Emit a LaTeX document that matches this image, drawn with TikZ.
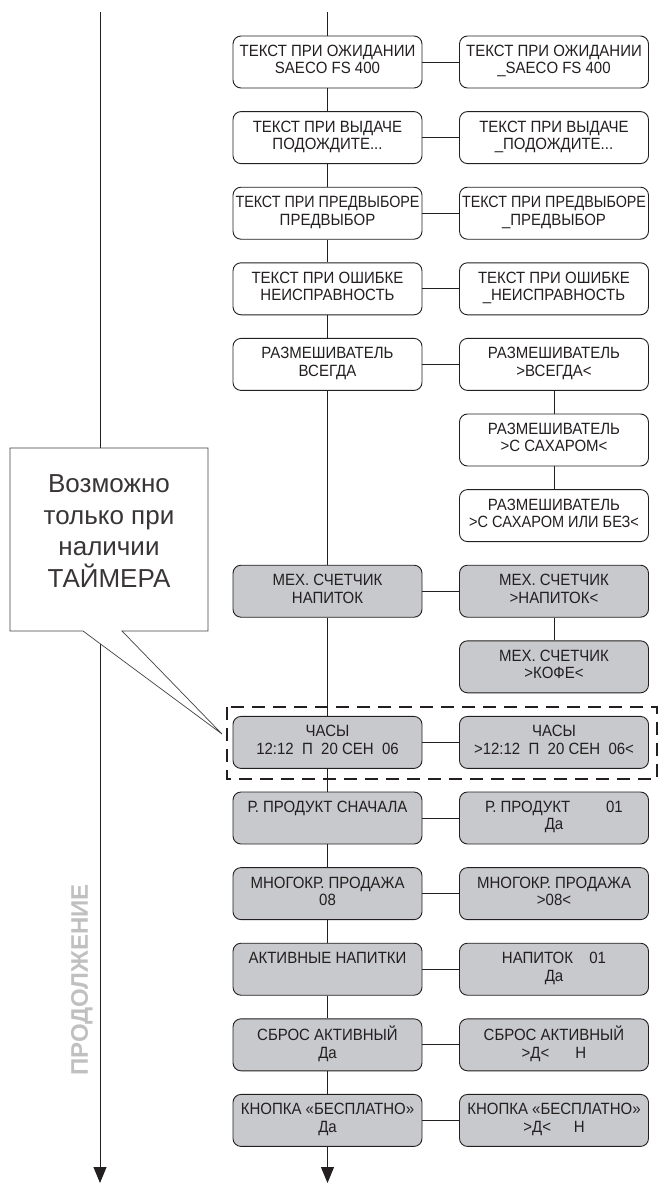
\documentclass[tikz,border=0pt]{standalone}
\usepackage{fontspec}
\setmainfont{Liberation Sans}
\newfontfamily\boxfam{Liberation Sans}[FakeStretch=0.92]
\usetikzlibrary{arrows.meta}
\definecolor{boxgray}{RGB}{200,201,204}
\definecolor{txt}{RGB}{35,31,32}
\definecolor{contgray}{RGB}{192,192,194}
\newcommand\boxfont{\boxfam\fontsize{16.3}{17.5}\selectfont}
\newcommand\condtxt[2][0.955]{\scalebox{#1}[1]{#2}}
\tikzset{
  box/.style={draw=txt, line width=0.9pt, rounded corners=8pt, fill=white,
    minimum width=189pt, minimum height=52pt, inner sep=0pt, align=center,
    text depth=5pt, font=\boxfont, text=txt},
  gbox/.style={box, fill=boxgray},
  conn/.style={draw=txt, line width=0.9pt},
  endarrow/.style={-{Triangle[width=13pt,length=16pt]}},
  dashbox/.style={draw=txt, line width=2pt, dash pattern=on 13pt off 8pt},
  callout/.style={draw=txt!85, line width=0.7pt, fill=white},
  calltext/.style={align=center, text=txt!90, font=\fontsize{26}{31.5}\selectfont},
  conttext/.style={rotate=90, text=contgray, font=\bfseries\fontsize{24}{24}\selectfont}
}
\begin{document}
\begin{tikzpicture}[x=1pt,y=-1pt]
\useasboundingbox (0,0) rectangle (658,1183);
% free ends
\coordinate (ctop) at (327.5,12);
\coordinate (cbot) at (327.5,1183);
\coordinate (ltop) at (100,12);
\coordinate (lbot) at (100,1183);
% left guide line with callout
\draw[conn,endarrow] (ltop) -- (lbot);
\node[conttext] (cont) at (82,980) {ПРОДОЛЖЕНИЕ};
% left column
\node[box] (a1) at (327.5,62) {ТЕКСТ ПРИ ОЖИДАНИИ\\SAECO FS 400};
\node[box] (a2) at (327.5,137.6) {ТЕКСТ ПРИ ВЫДАЧЕ\\ПОДОЖДИТЕ...};
\node[box] (a3) at (327.5,213.2) {\condtxt{ТЕКСТ ПРИ ПРЕДВЫБОРЕ}\\ПРЕДВЫБОР};
\node[box] (a4) at (327.5,288.8) {ТЕКСТ ПРИ ОШИБКЕ\\НЕИСПРАВНОСТЬ};
\node[box] (a5) at (327.5,364.4) {РАЗМЕШИВАТЕЛЬ\\ВСЕГДА};
\node[gbox] (a6) at (327.5,591.2) {МЕХ. СЧЕТЧИК\\НАПИТОК};
\node[gbox] (a7) at (327.5,742.4) {ЧАСЫ\\12:12\ \ П\ \ 20 СЕН\ \ 06};
\node[gbox] (a8) at (327.5,818) {Р. ПРОДУКТ СНАЧАЛА\\\mbox{}};
\node[gbox] (a9) at (327.5,893.6) {МНОГОКР. ПРОДАЖА\\08};
\node[gbox] (a10) at (327.5,969.2) {АКТИВНЫЕ НАПИТКИ\\\mbox{}};
\node[gbox] (a11) at (327.5,1044.8) {СБРОС АКТИВНЫЙ\\Да};
\node[gbox] (a12) at (327.5,1120.4) {КНОПКА «БЕСПЛАТНО»\\Да};
% right column
\node[box] (b1) at (554,62) {ТЕКСТ ПРИ ОЖИДАНИИ\\\_SAECO FS 400};
\node[box] (b2) at (554,137.6) {ТЕКСТ ПРИ ВЫДАЧЕ\\\_ПОДОЖДИТЕ...};
\node[box] (b3) at (554,213.2) {\condtxt{ТЕКСТ ПРИ ПРЕДВЫБОРЕ}\\\_ПРЕДВЫБОР};
\node[box] (b4) at (554,288.8) {ТЕКСТ ПРИ ОШИБКЕ\\\_НЕИСПРАВНОСТЬ};
\node[box] (b5) at (554,364.4) {РАЗМЕШИВАТЕЛЬ\\>ВСЕГДА<};
\node[box] (b5b) at (554,440) {РАЗМЕШИВАТЕЛЬ\\>С САХАРОМ<};
\node[box] (b5c) at (554,515.6) {РАЗМЕШИВАТЕЛЬ\\\condtxt[0.97]{>С САХАРОМ ИЛИ БЕЗ<}};
\node[gbox] (b6) at (554,591.2) {МЕХ. СЧЕТЧИК\\>НАПИТОК<};
\node[gbox] (b6b) at (554,666.8) {МЕХ. СЧЕТЧИК\\>КОФЕ<};
\node[gbox] (b7) at (554,742.4) {ЧАСЫ\\>12:12\ \ П\ \ 20 СЕН\ \ 06<};
\node[gbox] (b8) at (554,818) {Р. ПРОДУКТ\hspace{2.2em}01\\Да};
\node[gbox] (b9) at (554,893.6) {МНОГОКР. ПРОДАЖА\\>08<};
\node[gbox] (b10) at (554,969.2) {НАПИТОК\hspace{1em}01\\Да};
\node[gbox] (b11) at (554,1044.8) {СБРОС АКТИВНЫЙ\\>Д<\hspace{1.6em}Н};
\node[gbox] (b12) at (554,1120.4) {КНОПКА «БЕСПЛАТНО»\\>Д<\hspace{1.4em}Н};
% central chain
\draw[conn] (ctop) -- (a1);
\draw[conn] (a1) -- (a2);
\draw[conn] (a2) -- (a3);
\draw[conn] (a3) -- (a4);
\draw[conn] (a4) -- (a5);
\draw[conn] (a5) -- (a6);
\draw[conn] (a6) -- (a7);
\draw[conn] (a7) -- (a8);
\draw[conn] (a8) -- (a9);
\draw[conn] (a9) -- (a10);
\draw[conn] (a10) -- (a11);
\draw[conn] (a11) -- (a12);
\draw[conn,endarrow] (a12) -- (cbot);
% horizontal links
\foreach \i in {1,...,12} { \draw[conn] (a\i) -- (b\i); }
% right sub chains
\draw[conn] (b5) -- (b5b);
\draw[conn] (b5b) -- (b5c);
\draw[conn] (b6) -- (b6b);
% timer frame
\draw[dashbox] (227,707) rectangle (657,779);
% callout
\draw[callout] (10,448) -- (208,448) -- (208,631) -- (122,631) -- (222,734) -- (83,631) -- (10,631) -- cycle;
\node[calltext] (note) at (109,531) {Возможно\\только при\\наличии\\ТАЙМЕРА};
\end{tikzpicture}
\end{document}
